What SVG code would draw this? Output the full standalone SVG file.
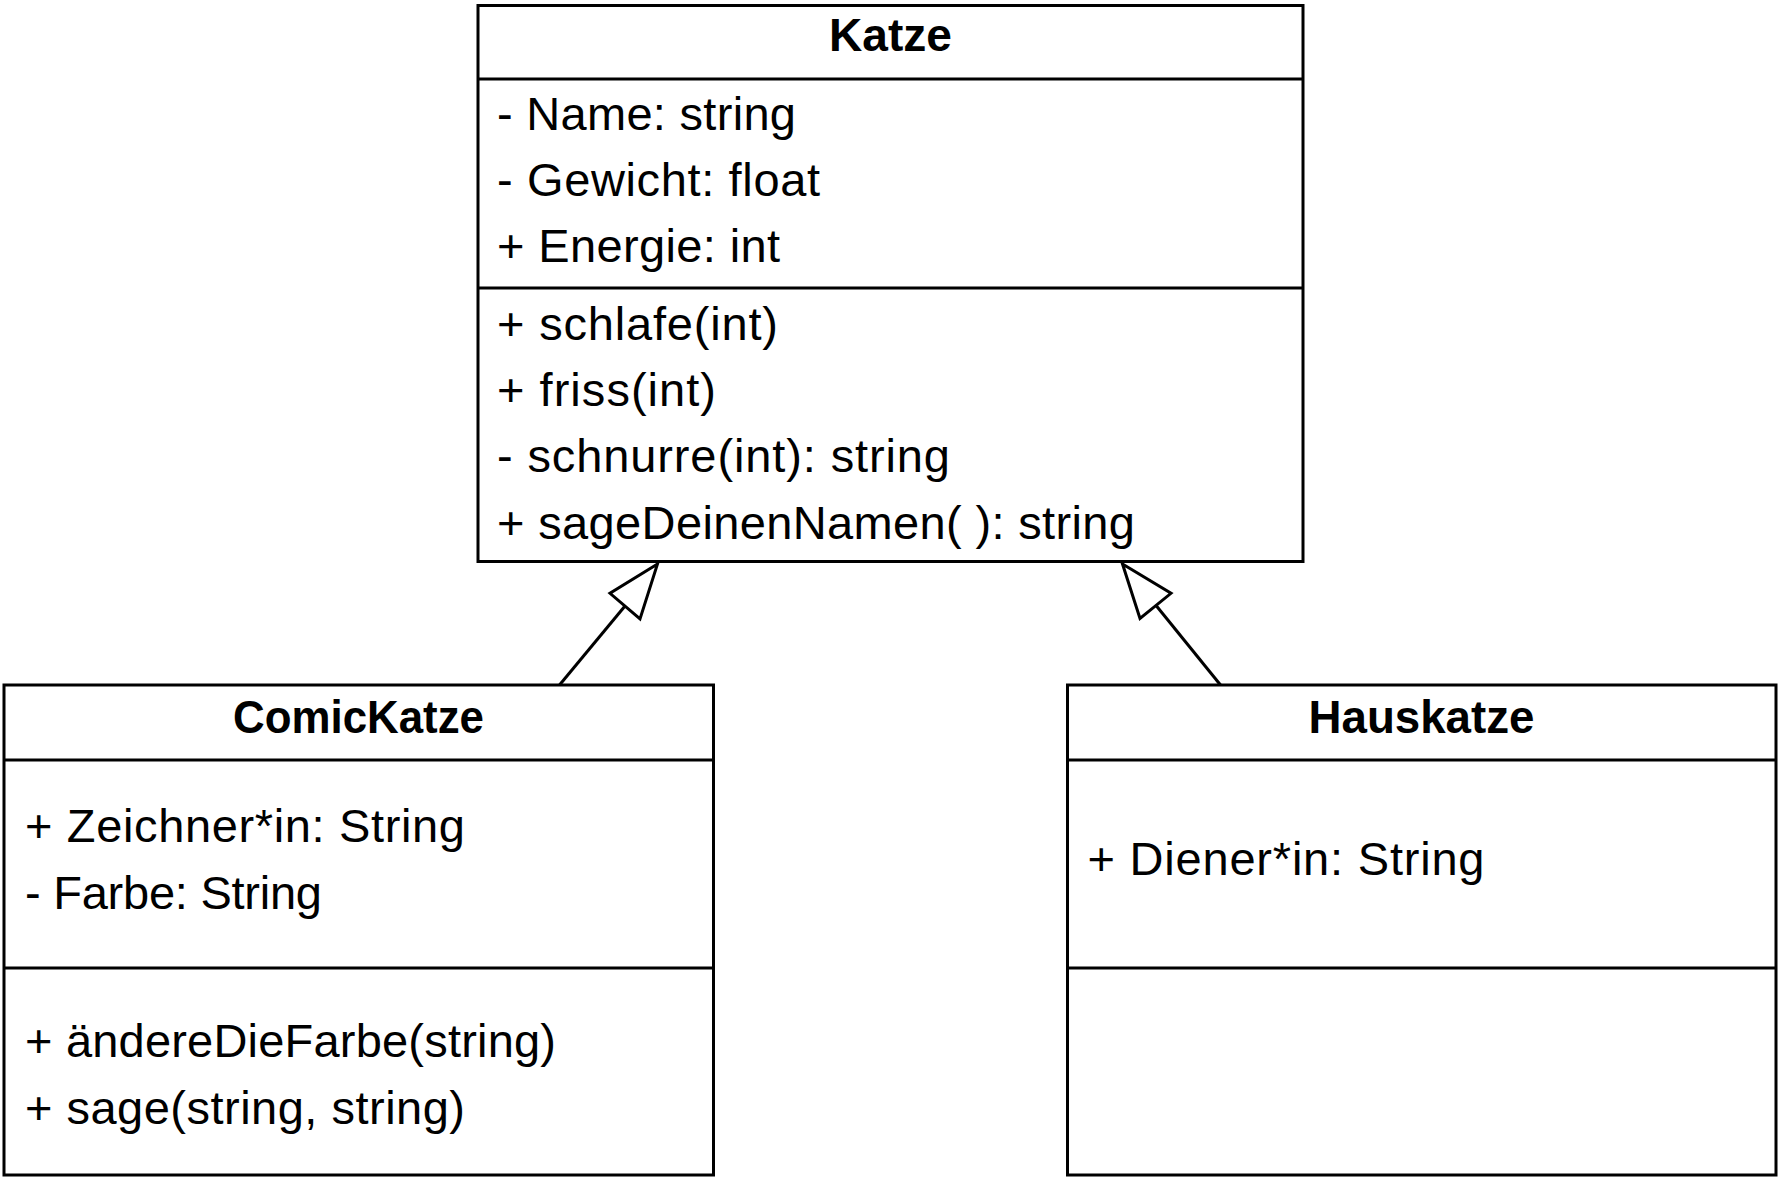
<svg xmlns="http://www.w3.org/2000/svg" width="1779" height="1179" viewBox="0 0 1779 1179">
  <style>
    .box { fill: #ffffff; stroke: #000000; stroke-width: 3; }
    .sep { stroke: #000000; stroke-width: 3; }
    .title { font-family: "Liberation Sans", Arial, sans-serif; font-size: 46px; font-weight: bold; fill: #000000; text-anchor: middle; }
    .txt { font-family: "Liberation Sans", Arial, sans-serif; font-size: 47px; fill: #000000; }
    .conn { stroke: #000000; stroke-width: 3; fill: none; }
    .head { stroke: #000000; stroke-width: 3; fill: #ffffff; stroke-linejoin: miter; }
  </style>
  <rect x="0" y="0" width="1779" height="1179" fill="#ffffff"/>

  <g id="Katze">
    <rect class="box" x="478" y="5.5" width="825" height="556"/>
    <line class="sep" x1="478" y1="79" x2="1303" y2="79"/>
    <line class="sep" x1="478" y1="288" x2="1303" y2="288"/>
    <text class="title" x="890.5" y="51" textLength="123" lengthAdjust="spacingAndGlyphs">Katze</text>
    <text class="txt" x="497" y="129.5" textLength="299">- Name: string</text>
    <text class="txt" x="497" y="195.5" textLength="323">- Gewicht: float</text>
    <text class="txt" x="497" y="262" textLength="283">+ Energie: int</text>
    <text class="txt" x="497" y="339.5" textLength="281">+ schlafe(int)</text>
    <text class="txt" x="497" y="405.5" textLength="219">+ friss(int)</text>
    <text class="txt" x="497" y="472" textLength="453">- schnurre(int): string</text>
    <text class="txt" x="497" y="538.5" textLength="638">+ sageDeinenNamen( ): string</text>
  </g>

  <g id="ComicKatze">
    <rect class="box" x="4" y="685" width="709.5" height="490"/>
    <line class="sep" x1="4" y1="760" x2="713.5" y2="760"/>
    <line class="sep" x1="4" y1="968" x2="713.5" y2="968"/>
    <text class="title" x="358.5" y="732.5" textLength="251" lengthAdjust="spacingAndGlyphs">ComicKatze</text>
    <text class="txt" x="25" y="842" textLength="440">+ Zeichner*in: String</text>
    <text class="txt" x="25" y="908.5" textLength="297">- Farbe: String</text>
    <text class="txt" x="25" y="1057" textLength="531">+ ändereDieFarbe(string)</text>
    <text class="txt" x="25" y="1123.5" textLength="440">+ sage(string, string)</text>
  </g>

  <g id="Hauskatze">
    <rect class="box" x="1067.5" y="685" width="708.5" height="490"/>
    <line class="sep" x1="1067.5" y1="760" x2="1776" y2="760"/>
    <line class="sep" x1="1067.5" y1="968" x2="1776" y2="968"/>
    <text class="title" x="1421.5" y="732.5" textLength="226" lengthAdjust="spacingAndGlyphs">Hauskatze</text>
    <text class="txt" x="1087.5" y="875" textLength="397">+ Diener*in: String</text>
  </g>

  <g id="connectors">
    <line class="conn" x1="559.5" y1="685" x2="625" y2="606"/>
    <polygon class="head" points="657.5,564 610,593.3 640,619"/>
    <line class="conn" x1="1220.5" y1="685" x2="1156.5" y2="606"/>
    <polygon class="head" points="1122.5,564 1171,593.3 1140,618.5"/>
  </g>
</svg>
